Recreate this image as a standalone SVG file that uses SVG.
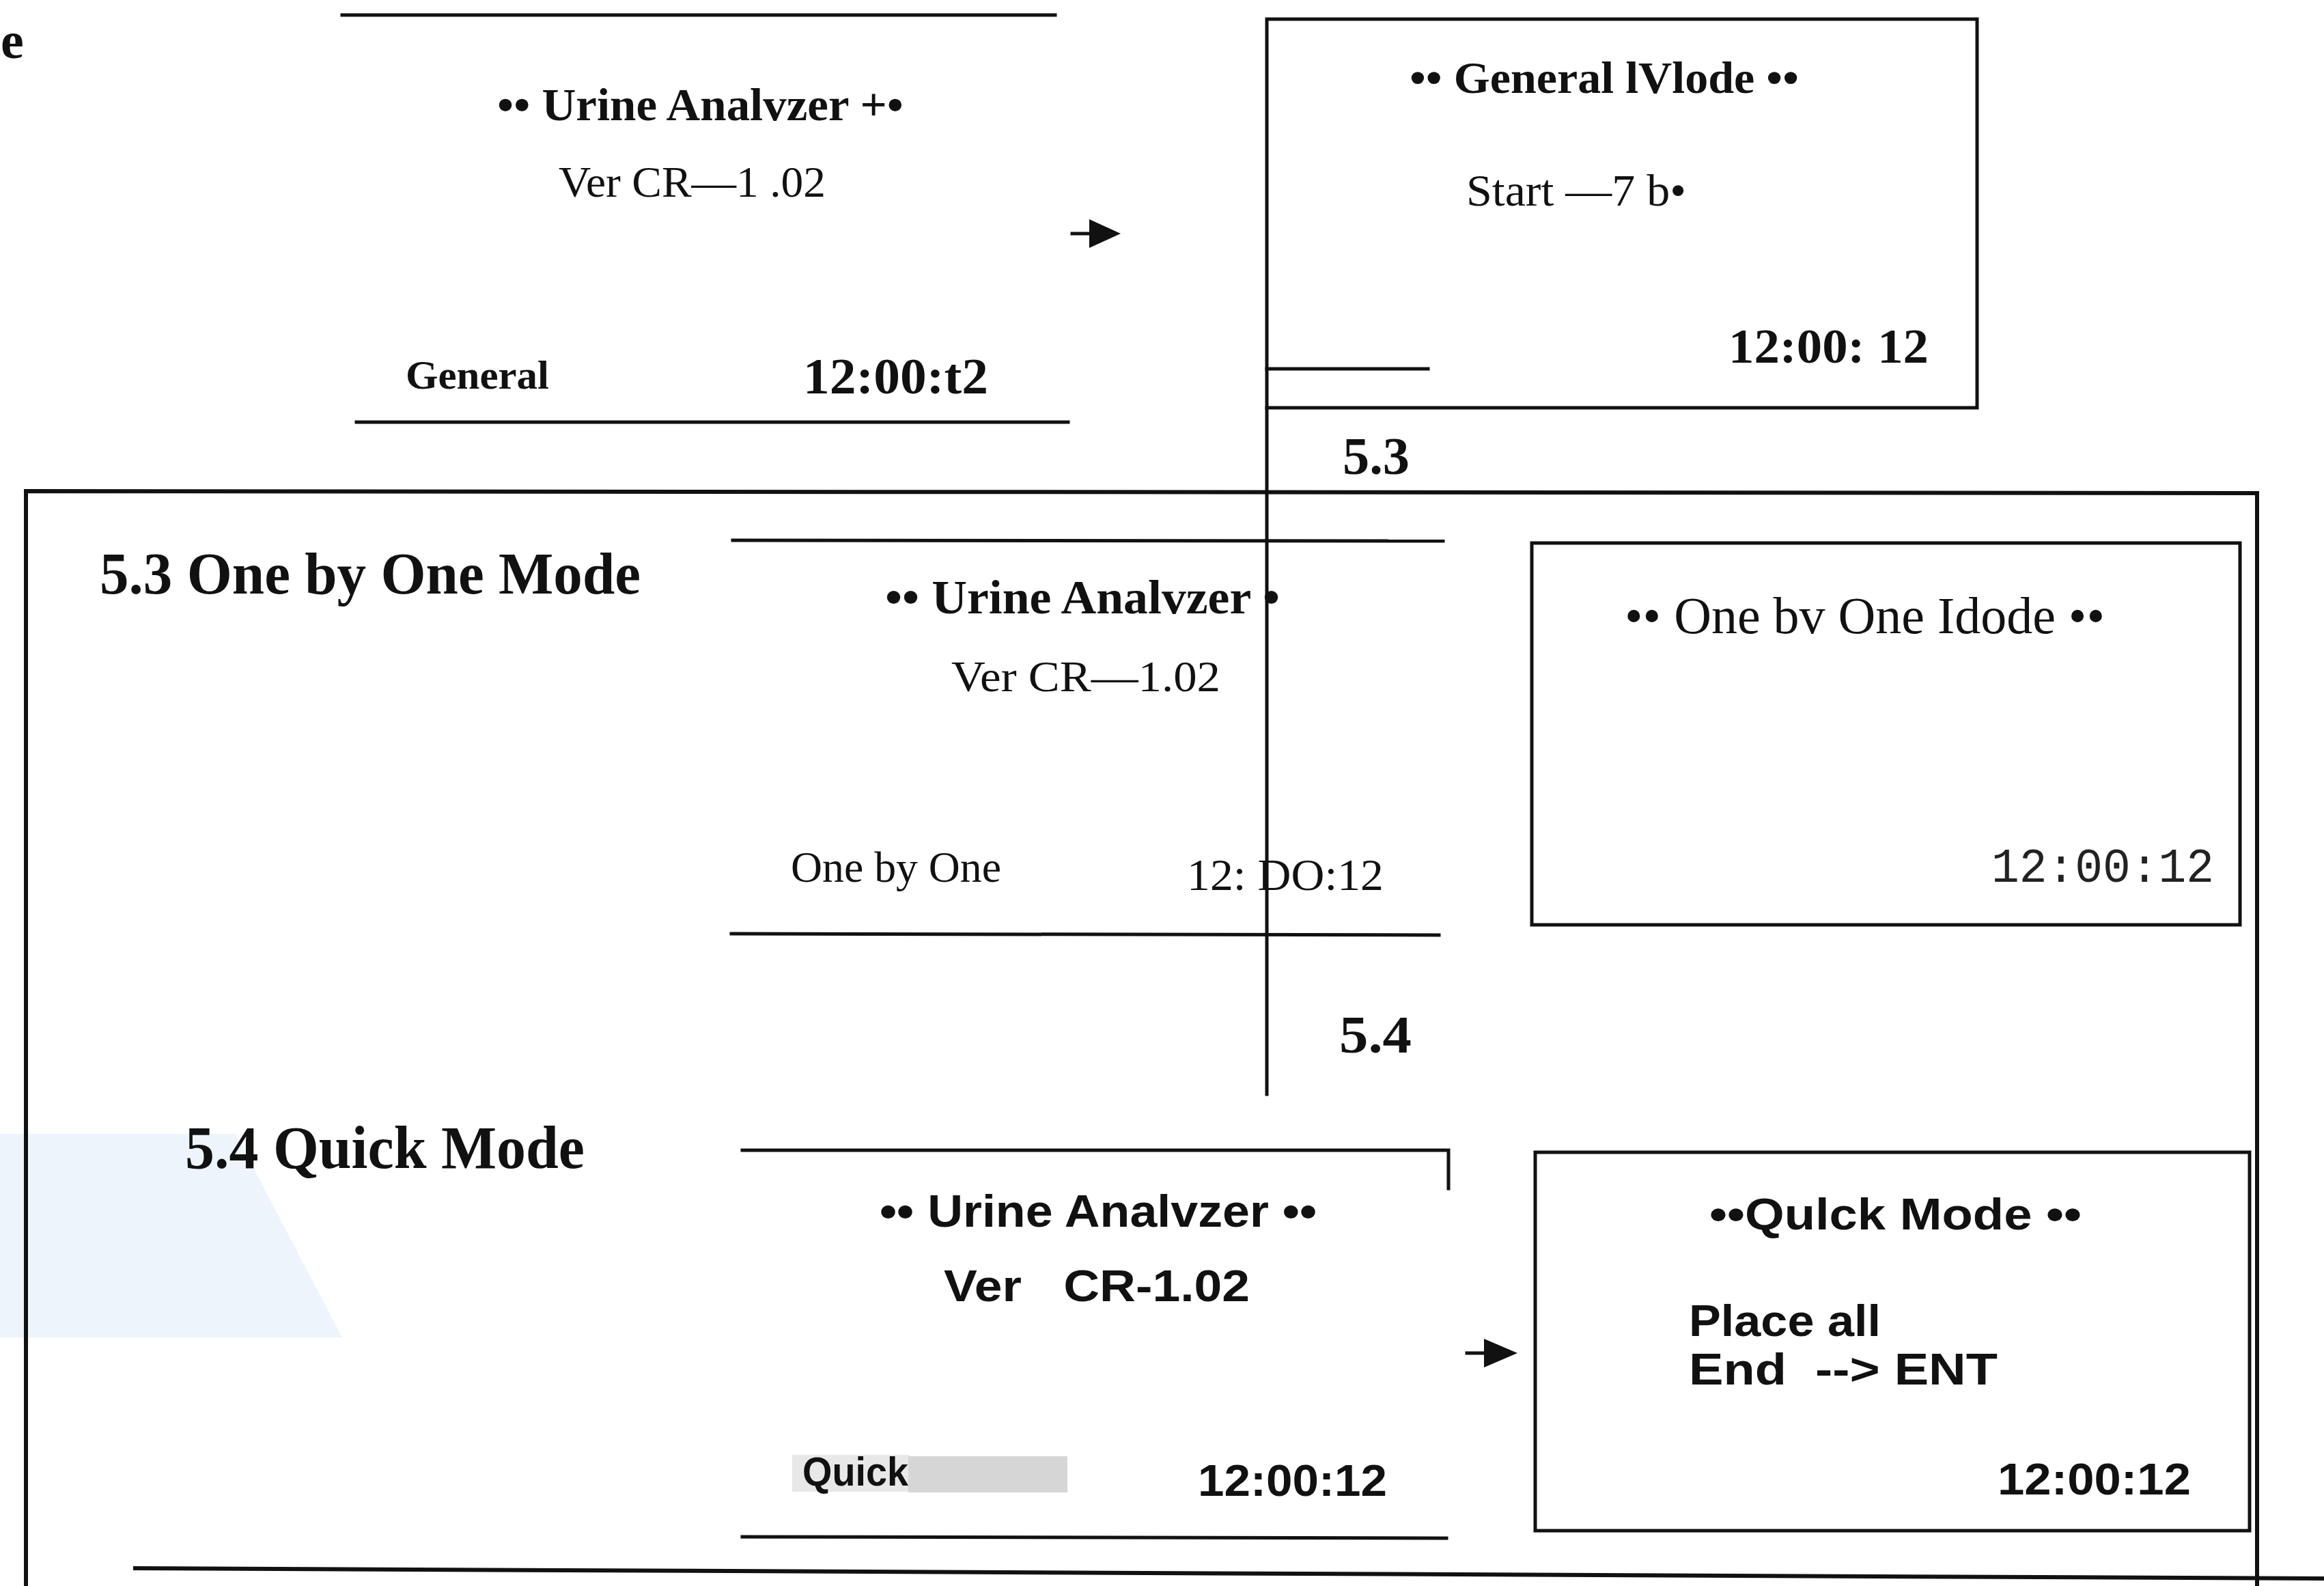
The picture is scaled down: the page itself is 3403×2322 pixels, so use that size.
<svg xmlns="http://www.w3.org/2000/svg" width="3403" height="2322" viewBox="0 0 3403 2322">
<style>
.ln{stroke:#111;stroke-width:5;fill:none;stroke-linecap:square}
.bx{stroke:#111;stroke-width:5;fill:none}
.fr{stroke:#111;stroke-width:6;fill:none}
.sb{font-family:"Liberation Serif","Times New Roman",serif;font-weight:bold;fill:#111}
.sr{font-family:"Liberation Serif","Times New Roman",serif;font-weight:normal;fill:#111}
.mo{font-family:"Liberation Mono","Courier New",monospace;fill:#222}
.ss{font-family:"Liberation Sans",Arial,sans-serif;font-weight:bold;fill:#111}
.ah{fill:#111}
</style>
<rect x="0" y="0" width="3403" height="2322" fill="#ffffff"/>
<polygon points="0,1660 345,1660 501,1958 0,1958" fill="#edf4fc"/>
<text class="sb" x="1" y="85" font-size="76">e</text>

<g id="screen-general-start">
<line class="ln" x1="501" y1="22" x2="1545" y2="22"/>
<line class="ln" x1="522" y1="618" x2="1564" y2="618"/>
<text class="sb" x="728" y="176" font-size="68" textLength="595" lengthAdjust="spacingAndGlyphs">•• Urine Analvzer +•</text>
<text class="sr" x="818" y="288" font-size="64" textLength="391" lengthAdjust="spacingAndGlyphs">Ver CR—1 .02</text>
<text class="sb" x="594" y="569" font-size="60" textLength="210" lengthAdjust="spacingAndGlyphs">General</text>
<text class="sb" x="1176" y="576" font-size="74" textLength="271" lengthAdjust="spacingAndGlyphs">12:00:t2</text>
</g>

<g id="screen-general-mode">
<rect class="bx" x="1855" y="28" width="1040" height="569"/>
<line class="ln" x1="1855" y1="540" x2="2091" y2="540"/>
<text class="sb" x="2064" y="136" font-size="66" textLength="570" lengthAdjust="spacingAndGlyphs">•• General lVlode ••</text>
<text class="sr" x="2147" y="301" font-size="66" textLength="322" lengthAdjust="spacingAndGlyphs">Start —7 b•</text>
<text class="sb" x="2531" y="531" font-size="72" textLength="293" lengthAdjust="spacingAndGlyphs">12:00: 12</text>
</g>

<g id="section-frame">
<polyline class="fr" points="38,2322 38,719 3305,722 3305,2322"/>
<line class="fr" x1="195" y1="2296" x2="3403" y2="2311"/>
<text class="sb" x="1966" y="694" font-size="78" textLength="98" lengthAdjust="spacingAndGlyphs">5.3</text>
<text class="sb" x="146" y="869" font-size="86" textLength="792" lengthAdjust="spacingAndGlyphs">5.3 One by One Mode</text>
<text class="sb" x="1961" y="1541" font-size="78" textLength="106" lengthAdjust="spacingAndGlyphs">5.4</text>
<text class="sb" x="271" y="1710" font-size="88" textLength="585" lengthAdjust="spacingAndGlyphs">5.4 Quick Mode</text>
</g>

<g id="screen-onebyone-start">
<line class="ln" x1="1073" y1="791" x2="2113" y2="792"/>
<line class="ln" x1="1071" y1="1367" x2="2107" y2="1369"/>
<text class="sb" x="1296" y="898" font-size="70" textLength="578" lengthAdjust="spacingAndGlyphs">•• Urine Analvzer •</text>
<text class="sr" x="1393" y="1012" font-size="64" textLength="394" lengthAdjust="spacingAndGlyphs">Ver CR—1.02</text>
<text class="sr" x="1158" y="1291" font-size="64" textLength="308" lengthAdjust="spacingAndGlyphs">One by One</text>
<text class="sr" x="1738" y="1303" font-size="66" textLength="288" lengthAdjust="spacingAndGlyphs">12: DO:12</text>
</g>

<g id="screen-onebyone-mode">
<rect class="bx" x="2243" y="795" width="1037" height="559"/>
<text class="sr" x="2379" y="927" font-size="76" textLength="703" lengthAdjust="spacingAndGlyphs">•• One bv One Idode ••</text>
<text class="mo" x="2916" y="1291" font-size="70" textLength="326" lengthAdjust="spacingAndGlyphs">12:00:12</text>
</g>

<g id="screen-quick-start">
<polyline class="ln" points="1087,1684 2121,1684 2121,1740"/>
<line class="ln" x1="1087" y1="2250" x2="2118" y2="2252"/>
<rect x="1160" y="2130" width="172" height="54" fill="#e8e8e8"/>
<rect x="1330" y="2132" width="233" height="53" fill="#d6d6d6"/>
<text class="ss" x="1288" y="1796" font-size="66" textLength="640" lengthAdjust="spacingAndGlyphs">•• Urine Analvzer ••</text>
<text class="ss" x="1382" y="1905" font-size="64" textLength="448" lengthAdjust="spacingAndGlyphs" xml:space="preserve">Ver   CR-1.02</text>
<text class="ss" x="1175" y="2175" font-size="60" textLength="155" lengthAdjust="spacingAndGlyphs">Quick</text>
<text class="ss" x="1754" y="2190" font-size="64" textLength="277" lengthAdjust="spacingAndGlyphs">12:00:12</text>
</g>

<g id="screen-quick-mode">
<rect class="bx" x="2248" y="1687" width="1046" height="554"/>
<text class="ss" x="2503" y="1800" font-size="64" textLength="545" lengthAdjust="spacingAndGlyphs">••Qulck Mode ••</text>
<text class="ss" x="2473" y="1956" font-size="64" textLength="281" lengthAdjust="spacingAndGlyphs">Place all</text>
<text class="ss" x="2473" y="2027" font-size="64" textLength="452" lengthAdjust="spacingAndGlyphs" xml:space="preserve">End  --&gt; ENT</text>
<text class="ss" x="2925" y="2188" font-size="64" textLength="283" lengthAdjust="spacingAndGlyphs">12:00:12</text>
</g>

<g id="connectors">
<line class="ln" x1="1855" y1="597" x2="1855" y2="1602"/>
<line class="ln" x1="1570" y1="342" x2="1600" y2="342"/>
<polygon class="ah" points="1595,321 1641,342 1595,363"/>
<line class="ln" x1="2148" y1="1981" x2="2178" y2="1981"/>
<polygon class="ah" points="2173,1960 2222,1981 2173,2002"/>
</g>
</svg>
